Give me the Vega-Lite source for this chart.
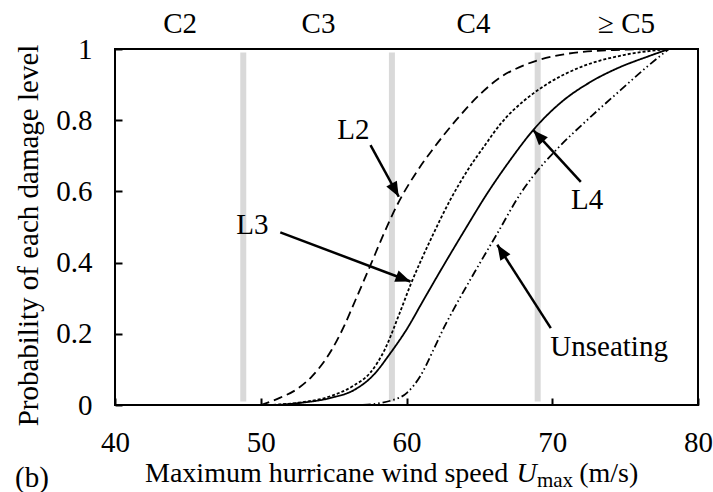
{
  "$schema": "https://vega.github.io/schema/vega-lite/v6.json",
  "width": 583,
  "height": 356,
  "autosize": {"type": "none"},
  "padding": {"left": 115, "top": 49, "right": 15, "bottom": 87},
  "background": "white",
  "config": {
    "view": {"stroke": "black", "strokeWidth": 2},
    "font": "Liberation Serif",
    "axis": {
      "labelFont": "Liberation Serif", "labelFontSize": 29, "labelColor": "black",
      "titleFont": "Liberation Serif", "titleFontSize": 29, "titleColor": "black", "titleFontWeight": "normal",
      "tickColor": "black", "tickWidth": 2, "tickSize": -7, "domain": false, "grid": false, "labelPadding": 30
    },
    "text": {"font": "Liberation Serif", "fontSize": 29, "color": "black"}
  },
  "datasets": {
    "bounds": [{"x": 48.8, "y": 0.01, "y2": 0.99}, {"x": 59, "y": 0.01, "y2": 0.99}, {"x": 69, "y": 0.01, "y2": 0.99}],
    "curves": [
      {"s": "L2", "x": 50, "y": 0}, {"s": "L2", "x": 51.3, "y": 0.02}, {"s": "L2", "x": 52.5, "y": 0.045},
      {"s": "L2", "x": 53.5, "y": 0.08}, {"s": "L2", "x": 54.87, "y": 0.155}, {"s": "L2", "x": 55.7, "y": 0.22},
      {"s": "L2", "x": 56.5, "y": 0.295}, {"s": "L2", "x": 57.5, "y": 0.39}, {"s": "L2", "x": 58.4, "y": 0.477},
      {"s": "L2", "x": 59.3, "y": 0.557}, {"s": "L2", "x": 60.7, "y": 0.655}, {"s": "L2", "x": 61.8, "y": 0.718},
      {"s": "L2", "x": 63.4, "y": 0.8}, {"s": "L2", "x": 65.1, "y": 0.875}, {"s": "L2", "x": 66.5, "y": 0.922},
      {"s": "L2", "x": 68.1, "y": 0.955}, {"s": "L2", "x": 70.8, "y": 0.985}, {"s": "L2", "x": 74.2, "y": 0.997},
      {"s": "L2", "x": 78, "y": 1},
      {"s": "L3", "x": 50.5, "y": 0}, {"s": "L3", "x": 52.5, "y": 0.006}, {"s": "L3", "x": 54.8, "y": 0.025},
      {"s": "L3", "x": 56.4, "y": 0.055}, {"s": "L3", "x": 57.5, "y": 0.09}, {"s": "L3", "x": 58.5, "y": 0.155},
      {"s": "L3", "x": 59.5, "y": 0.255}, {"s": "L3", "x": 60.3, "y": 0.34}, {"s": "L3", "x": 61.65, "y": 0.464},
      {"s": "L3", "x": 63, "y": 0.576}, {"s": "L3", "x": 64.2, "y": 0.66}, {"s": "L3", "x": 65.3, "y": 0.725},
      {"s": "L3", "x": 66.5, "y": 0.792}, {"s": "L3", "x": 68.1, "y": 0.856}, {"s": "L3", "x": 69.7, "y": 0.903},
      {"s": "L3", "x": 72, "y": 0.95}, {"s": "L3", "x": 74.9, "y": 0.983}, {"s": "L3", "x": 78, "y": 1},
      {"s": "L4", "x": 51, "y": 0}, {"s": "L4", "x": 52.5, "y": 0.005}, {"s": "L4", "x": 54.8, "y": 0.02},
      {"s": "L4", "x": 56.4, "y": 0.042}, {"s": "L4", "x": 57.75, "y": 0.085}, {"s": "L4", "x": 58.9, "y": 0.146},
      {"s": "L4", "x": 60.05, "y": 0.215}, {"s": "L4", "x": 61.1, "y": 0.29}, {"s": "L4", "x": 62.3, "y": 0.375},
      {"s": "L4", "x": 63.9, "y": 0.485}, {"s": "L4", "x": 65.55, "y": 0.595}, {"s": "L4", "x": 67.15, "y": 0.69},
      {"s": "L4", "x": 68.75, "y": 0.775}, {"s": "L4", "x": 70.6, "y": 0.85}, {"s": "L4", "x": 72.65, "y": 0.908},
      {"s": "L4", "x": 74.7, "y": 0.95}, {"s": "L4", "x": 76.5, "y": 0.978}, {"s": "L4", "x": 78, "y": 1},
      {"s": "Unseating", "x": 57, "y": 0}, {"s": "Unseating", "x": 58.9, "y": 0.012}, {"s": "Unseating", "x": 60.05, "y": 0.035},
      {"s": "Unseating", "x": 60.93, "y": 0.08}, {"s": "Unseating", "x": 61.85, "y": 0.155}, {"s": "Unseating", "x": 62.6, "y": 0.22},
      {"s": "Unseating", "x": 63.25, "y": 0.27}, {"s": "Unseating", "x": 64.63, "y": 0.37}, {"s": "Unseating", "x": 66.23, "y": 0.482},
      {"s": "Unseating", "x": 67.84, "y": 0.595}, {"s": "Unseating", "x": 69.44, "y": 0.68}, {"s": "Unseating", "x": 70.35, "y": 0.72},
      {"s": "Unseating", "x": 72.65, "y": 0.81}, {"s": "Unseating", "x": 74.7, "y": 0.885}, {"s": "Unseating", "x": 76.5, "y": 0.95},
      {"s": "Unseating", "x": 78, "y": 1}
    ],
    "arrows": [
      {"name": "L2", "x": 59.47, "y": 0.585, "x2": 57.53, "y2": 0.73},
      {"name": "L3", "x": 60.27, "y": 0.347, "x2": 51.34, "y2": 0.485},
      {"name": "L4", "x": 68.7, "y": 0.772, "x2": 71.96, "y2": 0.627},
      {"name": "Unseating", "x": 66.23, "y": 0.45, "x2": 69.9, "y2": 0.216}
    ],
    "labels": [
      {"t": "L2", "x": 56.36, "y": 0.772},
      {"t": "L3", "x": 49.42, "y": 0.506},
      {"t": "L4", "x": 72.4, "y": 0.576},
      {"t": "Unseating", "x": 73.9, "y": 0.164},
      {"t": "C2", "x": 44.47, "y": 1.07},
      {"t": "C3", "x": 53.96, "y": 1.07},
      {"t": "C4", "x": 64.6, "y": 1.07},
      {"t": "≥ C5", "x": 75.1, "y": 1.07},
      {"t": "(b)", "x": 34.3, "y": -0.205}
    ],
    "title": [
      {"t": "Maximum hurricane wind speed", "x": 42.06, "y": -0.215, "k": "n"},
      {"t": "U", "x": 67.55, "y": -0.215, "k": "i"},
      {"t": "max", "x": 68.95, "y": -0.229, "k": "s"},
      {"t": "(m/s)", "x": 71.85, "y": -0.215, "k": "n"}
    ]
  },
  "encoding": {
    "x": {"field": "x", "type": "quantitative", "scale": {"domain": [40, 80], "nice": false, "zero": false},
      "axis": {"values": [40, 50, 60, 70, 80], "title": null, "labelFlush": false}},
    "y": {"field": "y", "type": "quantitative", "scale": {"domain": [0, 1], "nice": false},
      "axis": {"values": [0, 0.2, 0.4, 0.6, 0.8, 1], "format": "~g", "title": "Probability of each damage level",
        "titleX": -87, "titleY": 186, "titleAngle": -90, "titleAlign": "center", "titleBaseline": "middle", "labelFlush": false}}
  },
  "layer": [
    {
      "data": {"name": "bounds"},
      "mark": {"type": "rule", "color": "#d9d9d9", "strokeWidth": 6},
      "encoding": {"y2": {"field": "y2"}}
    },
    {
      "data": {"name": "curves"},
      "mark": {"type": "line", "color": "black", "strokeWidth": 1.8, "interpolate": "monotone"},
      "encoding": {
        "strokeDash": {"field": "s", "type": "nominal", "legend": null,
          "scale": {"domain": ["L2", "L3", "L4", "Unseating"], "range": [[9, 5], [3, 2], [1, 0], [8, 3, 1.5, 3, 1.5, 3]]}}
      }
    },
    {
      "data": {"name": "arrows"},
      "mark": {"type": "rule", "color": "black", "strokeWidth": 2.5},
      "encoding": {"x2": {"field": "x2"}, "y2": {"field": "y2"}}
    },
    {
      "data": {"name": "arrows"},
      "transform": [{"filter": "datum.name === 'L2'"}],
      "mark": {"type": "point", "shape": "M0,0L-0.4,1L0.4,1Z", "size": 900, "angle": 151.3, "filled": true, "color": "black", "opacity": 1, "strokeWidth": 0},
      "encoding": {}
    },
    {
      "data": {"name": "arrows"},
      "transform": [{"filter": "datum.name === 'L3'"}],
      "mark": {"type": "point", "shape": "M0,0L-0.4,1L0.4,1Z", "size": 900, "angle": 110.8, "filled": true, "color": "black", "opacity": 1, "strokeWidth": 0},
      "encoding": {}
    },
    {
      "data": {"name": "arrows"},
      "transform": [{"filter": "datum.name === 'L4'"}],
      "mark": {"type": "point", "shape": "M0,0L-0.4,1L0.4,1Z", "size": 900, "angle": 317.5, "filled": true, "color": "black", "opacity": 1, "strokeWidth": 0},
      "encoding": {}
    },
    {
      "data": {"name": "arrows"},
      "transform": [{"filter": "datum.name === 'Unseating'"}],
      "mark": {"type": "point", "shape": "M0,0L-0.4,1L0.4,1Z", "size": 900, "angle": 327.4, "filled": true, "color": "black", "opacity": 1, "strokeWidth": 0},
      "encoding": {}
    },
    {
      "data": {"name": "labels"},
      "mark": {"type": "text", "align": "center", "baseline": "middle"},
      "encoding": {"text": {"field": "t"}}
    },
    {
      "data": {"name": "title"},
      "transform": [{"filter": "datum.k === 'n'"}],
      "mark": {"type": "text", "fontSize": 28, "align": "left", "baseline": "alphabetic"},
      "encoding": {"text": {"field": "t"}}
    },
    {
      "data": {"name": "title"},
      "transform": [{"filter": "datum.k === 'i'"}],
      "mark": {"type": "text", "fontSize": 28, "fontStyle": "italic", "align": "left", "baseline": "alphabetic"},
      "encoding": {"text": {"field": "t"}}
    },
    {
      "data": {"name": "title"},
      "transform": [{"filter": "datum.k === 's'"}],
      "mark": {"type": "text", "fontSize": 21, "align": "left", "baseline": "alphabetic"},
      "encoding": {"text": {"field": "t"}}
    }
  ]
}
